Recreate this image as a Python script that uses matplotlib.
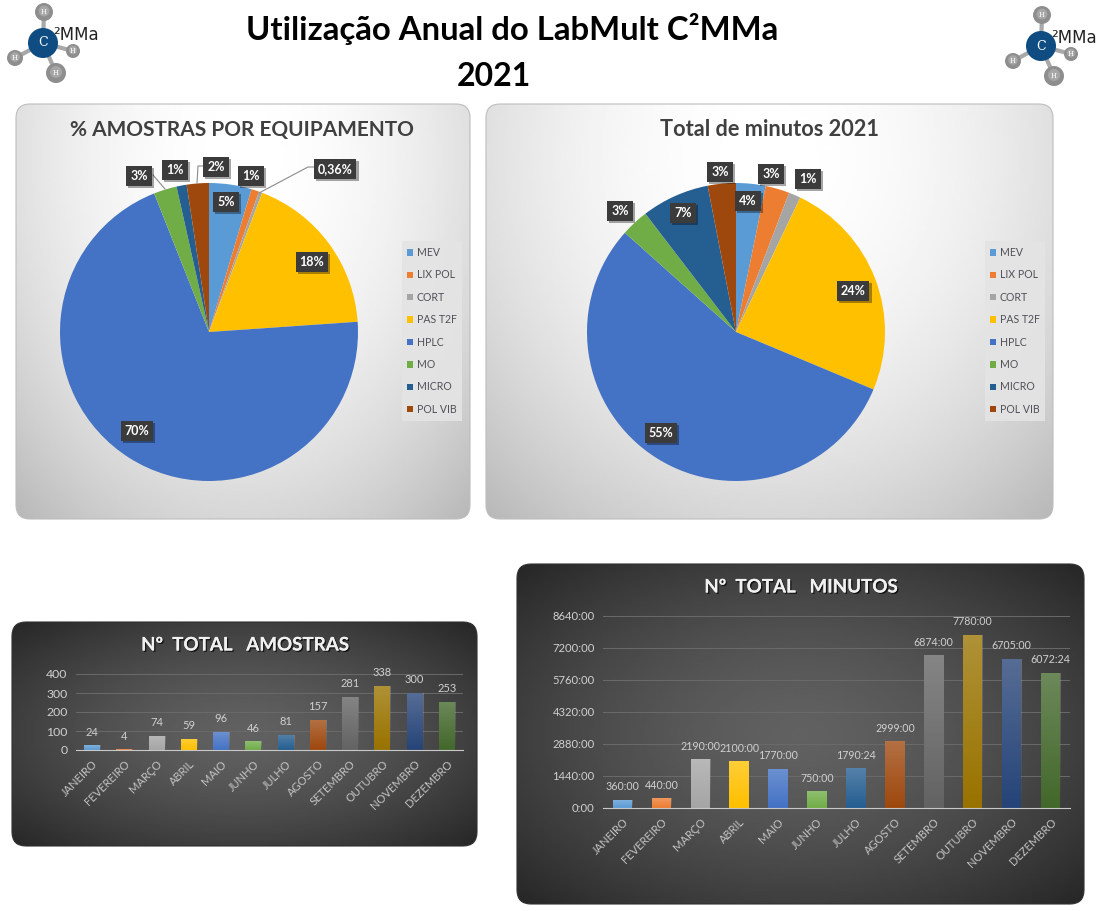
import numpy as np
import matplotlib
matplotlib.use('Agg')
import matplotlib.pyplot as plt
import matplotlib.patheffects as pe
from matplotlib.patches import FancyBboxPatch, Circle

W, H = 1100, 911
plt.rcParams['font.family'] = ['Lato', 'DejaVu Sans']

equip = ['MEV', 'LIX POL', 'CORT', 'PAS T2F', 'HPLC', 'MO', 'MICRO', 'POL VIB']
equip_colors = ['#5B9BD5', '#ED7D31', '#A5A5A5', '#FFC000', '#4472C4', '#70AD47', '#255E91', '#9E480E']
pct_amostras = [4.6, 0.85, 0.36, 18.1, 70.1, 2.5, 1.1, 2.4]
pct_amostras_txt = ['5%', '1%', '0,36%', '18%', '70%', '3%', '1%', '2%']
pct_minutos = [3.2, 2.6, 1.3, 24.2, 55.3, 3, 7.35, 3.05]
pct_minutos_txt = ['4%', '3%', '1%', '24%', '55%', '3%', '7%', '3%']

meses = ['JANEIRO', 'FEVEREIRO', 'MARÇO', 'ABRIL', 'MAIO', 'JUNHO', 'JULHO', 'AGOSTO',
         'SETEMBRO', 'OUTUBRO', 'NOVEMBRO', 'DEZEMBRO']
mes_colors = ['#5B9BD5', '#ED7D31', '#A5A5A5', '#FFC000', '#4472C4', '#70AD47', '#255E91', '#9E480E',
              '#636363', '#997300', '#264478', '#43682B']
amostras = [24, 4, 74, 59, 96, 46, 81, 157, 281, 338, 300, 253]
horas = [360, 440, 2190, 2100, 1770, 750, 1790.4, 2999, 6874, 7780, 6705, 6072.4]
horas_ticks = [0, 1440, 2880, 4320, 5760, 7200, 8640]


def px_axes(x0, y0, x1, y1, z=1):
    ax = fig.add_axes([x0 / W, 1 - y1 / H, (x1 - x0) / W, (y1 - y0) / H], zorder=z)
    ax.patch.set_alpha(0)
    return ax


def hhmm(v):
    h = int(v)
    return '%d:%02d' % (h, round((v - h) * 60))


def panel(x0, y0, x1, y1, c_in, c_out, edge, cy=0.0, ky=1.0, p=1.0):
    # gradient clipped to a rounded box, cy moves the bright spot up
    yy, xx = np.mgrid[-1:1:200j, -1:1:200j]
    r = np.sqrt(xx ** 2 + ky * (yy - cy) ** 2)
    r = (r / r.max()) ** p
    im = bg.imshow(c_in + (c_out - c_in) * r, cmap='gray', vmin=0, vmax=1, aspect='auto',
                   extent=[x0, x1, y1, y0], zorder=1)
    box = FancyBboxPatch((x0 + 14, y0 + 14), x1 - x0 - 28, y1 - y0 - 28,
                         boxstyle='round,pad=14,rounding_size=14', fc='none', ec=edge, lw=0.8, zorder=2)
    bg.add_patch(box)
    im.set_clip_path(box)


def logo(dx, dy):
    atoms = [(44, 12, 9), (15, 58, 8), (73, 51, 7), (56, 73, 10)]
    for x, y, r in atoms:
        bg.plot([43 + dx, x + dx], [43 + dy, y + dy], color='#a8a8a8', lw=3, zorder=3)
    for x, y, r in atoms:
        bg.add_patch(Circle((x + dx, y + dy), r, fc='#8e8e8e', ec='none', zorder=4))
        bg.add_patch(Circle((x + dx, y + dy - 1), r * 0.6, fc='#a6a6a6', ec='none', zorder=4))
        bg.text(x + dx, y + dy, 'H', color='white', fontsize=5, ha='center', va='center',
                family='DejaVu Serif', zorder=5)
    bg.add_patch(Circle((43 + dx, 43 + dy), 15, fc='#0f4c81', ec='none', zorder=4))
    bg.text(43 + dx, 43 + dy, 'C', color='white', fontsize=9, ha='center', va='center',
            family='DejaVu Serif', zorder=5)
    bg.text(53 + dx, 35 + dy, '²MMa', color='#222222', fontsize=12, ha='left', va='center',
            family='DejaVu Sans', zorder=5)


def pie_chart(ax, vals):
    wedges, _ = ax.pie(vals, colors=equip_colors, startangle=90, counterclock=False, radius=1)
    ax.set_xlim(-1, 1)
    ax.set_ylim(-1, 1)
    return wedges


def legenda(wedges, x0, y0, x1, y1):
    fig.legend(wedges, equip, loc='center', ncol=1,
               bbox_to_anchor=((x0 + x1) / 2 / W, 1 - (y0 + y1) / 2 / H),
               fontsize=7.6, labelcolor='#505058', frameon=True, facecolor='#e4e4e4', edgecolor='none',
               framealpha=0.9, fancybox=False, handlelength=0.55, handleheight=0.55, handletextpad=0.35,
               labelspacing=1.08, borderpad=0.55, borderaxespad=0)


def rotulos(txts, pos):
    for t, (x, y) in zip(txts, pos):
        lab = fg.text(x, y, t, color='white', fontsize=9, fontweight='bold', ha='center', va='center',
                      bbox=dict(boxstyle='square,pad=0.32', fc='#3b3b3b', ec='none'), zorder=5)
        lab.get_bbox_patch().set_path_effects(
            [pe.withSimplePatchShadow(offset=(1.5, -1.5), shadow_rgbFace='black', alpha=0.35)])


def barras(ax, vals, ymax, ticks, ticklabels, txts, tick_fs, val_fs, lab_fs, off):
    bars = ax.bar(range(12), vals, width=0.5, color=mes_colors, zorder=2)
    grad = np.ones((64, 2, 4))
    grad[..., 3] = np.linspace(0.22, 0, 64)[:, None]
    for b in bars:
        im = ax.imshow(grad, aspect='auto', zorder=3,
                       extent=[b.get_x(), b.get_x() + b.get_width(), 0, b.get_height()], origin='upper')
        im.set_clip_path(b)
    for i, (v, t) in enumerate(zip(vals, txts)):
        ax.annotate(t, (i, v), xytext=(0, off), textcoords='offset points', ha='center', va='center',
                    color='#d0d0d0', fontsize=val_fs)
    ax.set_xlim(-0.5, 11.5)
    ax.set_ylim(0, ymax)
    ax.set_yticks(ticks)
    ax.set_yticklabels(ticklabels, color='#d0d0d0', fontsize=tick_fs)
    ax.set_xticks(range(12))
    ax.set_xticklabels(meses, rotation=45, ha='right', rotation_mode='anchor', color='#c4c4c4', fontsize=lab_fs)
    ax.tick_params(length=0, pad=6)
    ax.grid(axis='y', color='#6a6a6a', lw=0.7, zorder=0)
    ax.set_axisbelow(True)
    for s in ['top', 'right', 'left']:
        ax.spines[s].set_visible(False)
    ax.spines['bottom'].set_color('#c8c8c8')


fig = plt.figure(figsize=(W / 100, H / 100), dpi=100, facecolor='white')

bg = fig.add_axes([0, 0, 1, 1], zorder=0)
panel(16, 104, 470, 519, 1.0, 0.72, '#bdbdbd', cy=-0.75, ky=0.43, p=2)
panel(486, 104, 1053, 519, 1.0, 0.72, '#bdbdbd', cy=-0.75, ky=0.43, p=2)
panel(12, 622, 477, 846, 0.38, 0.15, '#303030', p=1.5)
panel(517, 564, 1084, 904, 0.38, 0.15, '#303030', p=1.5)
logo(0, 0)
logo(998, 3)
bg.set_xlim(0, W)
bg.set_ylim(H, 0)
bg.axis('off')

w1 = pie_chart(px_axes(60, 183, 358, 481), pct_amostras)
w2 = pie_chart(px_axes(587, 183, 885, 481), pct_minutos)
legenda(w1, 402, 239, 462, 423)
legenda(w2, 985, 239, 1045, 423)

barras(px_axes(76, 674, 463, 750), amostras, 400, [0, 100, 200, 300, 400],
       ['0', '100', '200', '300', '400'], [str(v) for v in amostras], 8.8, 8, 8, 9.5)
barras(px_axes(603, 616, 1070, 808), horas, 8640, horas_ticks,
       [hhmm(v) for v in horas_ticks], [hhmm(v) for v in horas], 8.1, 7.7, 8, 9.5)

fg = fig.add_axes([0, 0, 1, 1], zorder=3)
fg.patch.set_alpha(0)
fg.set_xlim(0, W)
fg.set_ylim(H, 0)
fg.axis('off')

fg.text(512, 29, 'Utilização Anual do LabMult C²MMa', fontsize=23.7, fontweight='bold', color='black',
        ha='center', va='center')
fg.text(494, 77, '2021', fontsize=23, fontweight='bold', color='black', ha='center', va='center')

fg.text(242, 130, '% AMOSTRAS POR EQUIPAMENTO', fontsize=15, fontweight='bold', color='#404040',
        ha='center', va='center')
fg.text(770, 130, 'Total de minutos 2021', fontsize=15.7, fontweight='bold', color='#404040',
        ha='center', va='center')

sombra = [pe.withSimplePatchShadow(offset=(1, -1), shadow_rgbFace='black', alpha=0.7), pe.Normal()]
t1 = fg.text(245, 645, 'Nº  TOTAL   AMOSTRAS', fontsize=13.5, fontweight='bold', color='#f0f0f0',
             ha='center', va='center')
t2 = fg.text(801, 587, 'Nº  TOTAL   MINUTOS', fontsize=13.5, fontweight='bold', color='#f0f0f0',
             ha='center', va='center')
t1.set_path_effects(sombra)
t2.set_path_effects(sombra)

# linhas de chamada das fatias pequenas
for xs, ys in [([153, 165], [175, 189]), ([203, 198, 197], [166, 166, 183]), ([314, 308, 259], [167, 167, 193])]:
    fg.plot(xs, ys, color='#8c8c8c', lw=0.8, zorder=4)

rotulos(pct_amostras_txt, [(226, 202), (251, 176), (335, 169), (312, 262), (137, 431), (139, 176), (175, 170), (216, 167)])
rotulos(pct_minutos_txt, [(748, 201), (771, 174), (808, 179), (853, 291), (661, 433), (620, 211), (683, 213), (720, 172)])

plt.savefig('out.png', dpi=100)
